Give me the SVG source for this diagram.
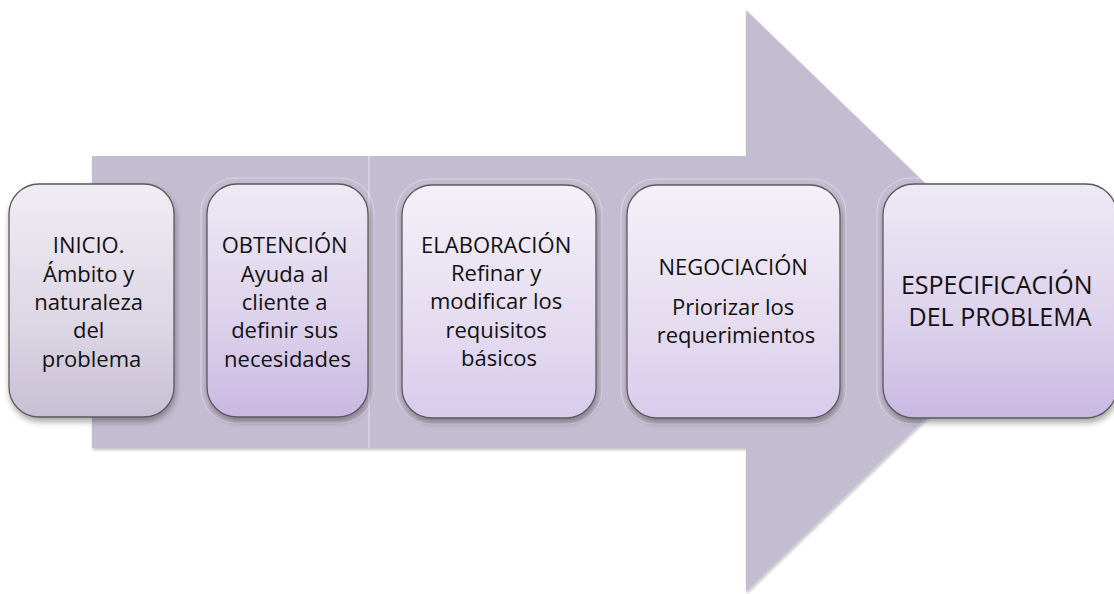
<svg xmlns="http://www.w3.org/2000/svg" width="1114" height="594" viewBox="0 0 1114 594">
  <style>
    .box { stroke: #5a5a5a; stroke-width: 1.3; filter: url(#shadow); }
    .halo { fill: none; stroke: #ffffff; stroke-opacity: 0.35; stroke-width: 1; }
    .lbl { font-family: "Open Sans", "Liberation Sans", sans-serif; font-size: 22px; fill: #111111; text-anchor: middle; }
    .big { font-size: 25px; }
  </style>
  <defs>
    <linearGradient id="gGray" x1="0" y1="0" x2="0" y2="1">
      <stop offset="0" stop-color="#f0ecf4"/>
      <stop offset="0.6" stop-color="#ddd6e4"/>
      <stop offset="1" stop-color="#c7bfd3"/>
    </linearGradient>
    <linearGradient id="gPurple" x1="0" y1="0" x2="0" y2="1">
      <stop offset="0" stop-color="#eee9f5"/>
      <stop offset="0.6" stop-color="#dcd1ec"/>
      <stop offset="1" stop-color="#c9b8e1"/>
    </linearGradient>
    <linearGradient id="gLight" x1="0" y1="0" x2="0" y2="1">
      <stop offset="0" stop-color="#f4f1f8"/>
      <stop offset="0.6" stop-color="#e5dcf0"/>
      <stop offset="1" stop-color="#d8cbec"/>
    </linearGradient>
    <filter id="shadow" x="-10%" y="-10%" width="125%" height="130%">
      <feGaussianBlur in="SourceAlpha" stdDeviation="3"/>
      <feOffset dx="1" dy="4" result="b"/>
      <feComponentTransfer><feFuncA type="linear" slope="0.35"/></feComponentTransfer>
      <feMerge><feMergeNode/><feMergeNode in="SourceGraphic"/></feMerge>
    </filter>
    <filter id="arrowShadow" x="-5%" y="-5%" width="110%" height="110%">
      <feGaussianBlur in="SourceAlpha" stdDeviation="1.5"/>
      <feOffset dx="1" dy="1.5" result="b"/>
      <feComponentTransfer><feFuncA type="linear" slope="0.25"/></feComponentTransfer>
      <feMerge><feMergeNode/><feMergeNode in="SourceGraphic"/></feMerge>
    </filter>
  </defs>

  <rect width="1114" height="594" fill="#ffffff"/>

  <!-- background block arrow -->
  <g id="arrow">
    <path d="M92,156 L746,156 L746,10 L1047,301 L746,592 L746,448 L92,448 Z" fill="#c4bdd2" filter="url(#arrowShadow)"/>
    <line x1="369" y1="156" x2="369" y2="448" stroke="#ffffff" stroke-opacity="0.6" stroke-width="1"/>
  </g>

  <!-- connectors: the process flow is carried by the arrow itself -->
  <g id="connectors"></g>

  <g id="inicio">
    <rect class="box" x="9" y="184" width="165" height="233" rx="30" fill="url(#gGray)"/>
    <text class="lbl" x="91.5">
      <tspan x="91.5" y="253">INICIO.</tspan>
      <tspan x="91.5" y="282">Ámbito y</tspan>
      <tspan x="91.5" y="310">naturaleza</tspan>
      <tspan x="91.5" y="338">del</tspan>
      <tspan x="91.5" y="367">problema</tspan>
    </text>
  </g>

  <g id="obtencion">
    <rect class="halo" x="201" y="178" width="173" height="245" rx="34"/>
    <rect class="box" x="207" y="184" width="161" height="233" rx="30" fill="url(#gPurple)"/>
    <text class="lbl">
      <tspan x="287.5" y="253">OBTENCIÓN</tspan>
      <tspan x="287.5" y="282">Ayuda al</tspan>
      <tspan x="287.5" y="310">cliente a</tspan>
      <tspan x="287.5" y="338">definir sus</tspan>
      <tspan x="287.5" y="367">necesidades</tspan>
    </text>
  </g>

  <g id="elaboracion">
    <rect class="halo" x="396" y="179" width="206" height="245" rx="34"/>
    <rect class="box" x="402" y="185" width="194" height="233" rx="30" fill="url(#gLight)"/>
    <text class="lbl">
      <tspan x="499" y="253">ELABORACIÓN</tspan>
      <tspan x="499" y="281">Refinar y</tspan>
      <tspan x="499" y="309">modificar los</tspan>
      <tspan x="499" y="338">requisitos</tspan>
      <tspan x="499" y="366">básicos</tspan>
    </text>
  </g>

  <g id="negociacion">
    <rect class="halo" x="621" y="179" width="225" height="245" rx="34"/>
    <rect class="box" x="627" y="185" width="213" height="233" rx="30" fill="url(#gLight)"/>
    <text class="lbl">
      <tspan x="736" y="275">NEGOCIACIÓN</tspan>
      <tspan x="736" y="315">Priorizar los</tspan>
      <tspan x="736" y="343">requerimientos</tspan>
    </text>
  </g>

  <g id="especificacion">
    <rect class="halo" x="877" y="178" width="246" height="246" rx="34"/>
    <rect class="box" x="883" y="184" width="234" height="234" rx="31" fill="url(#gPurple)"/>
    <text class="lbl big">
      <tspan x="1000" y="294">ESPECIFICACIÓN</tspan>
      <tspan x="1000" y="326">DEL PROBLEMA</tspan>
    </text>
  </g>
</svg>
